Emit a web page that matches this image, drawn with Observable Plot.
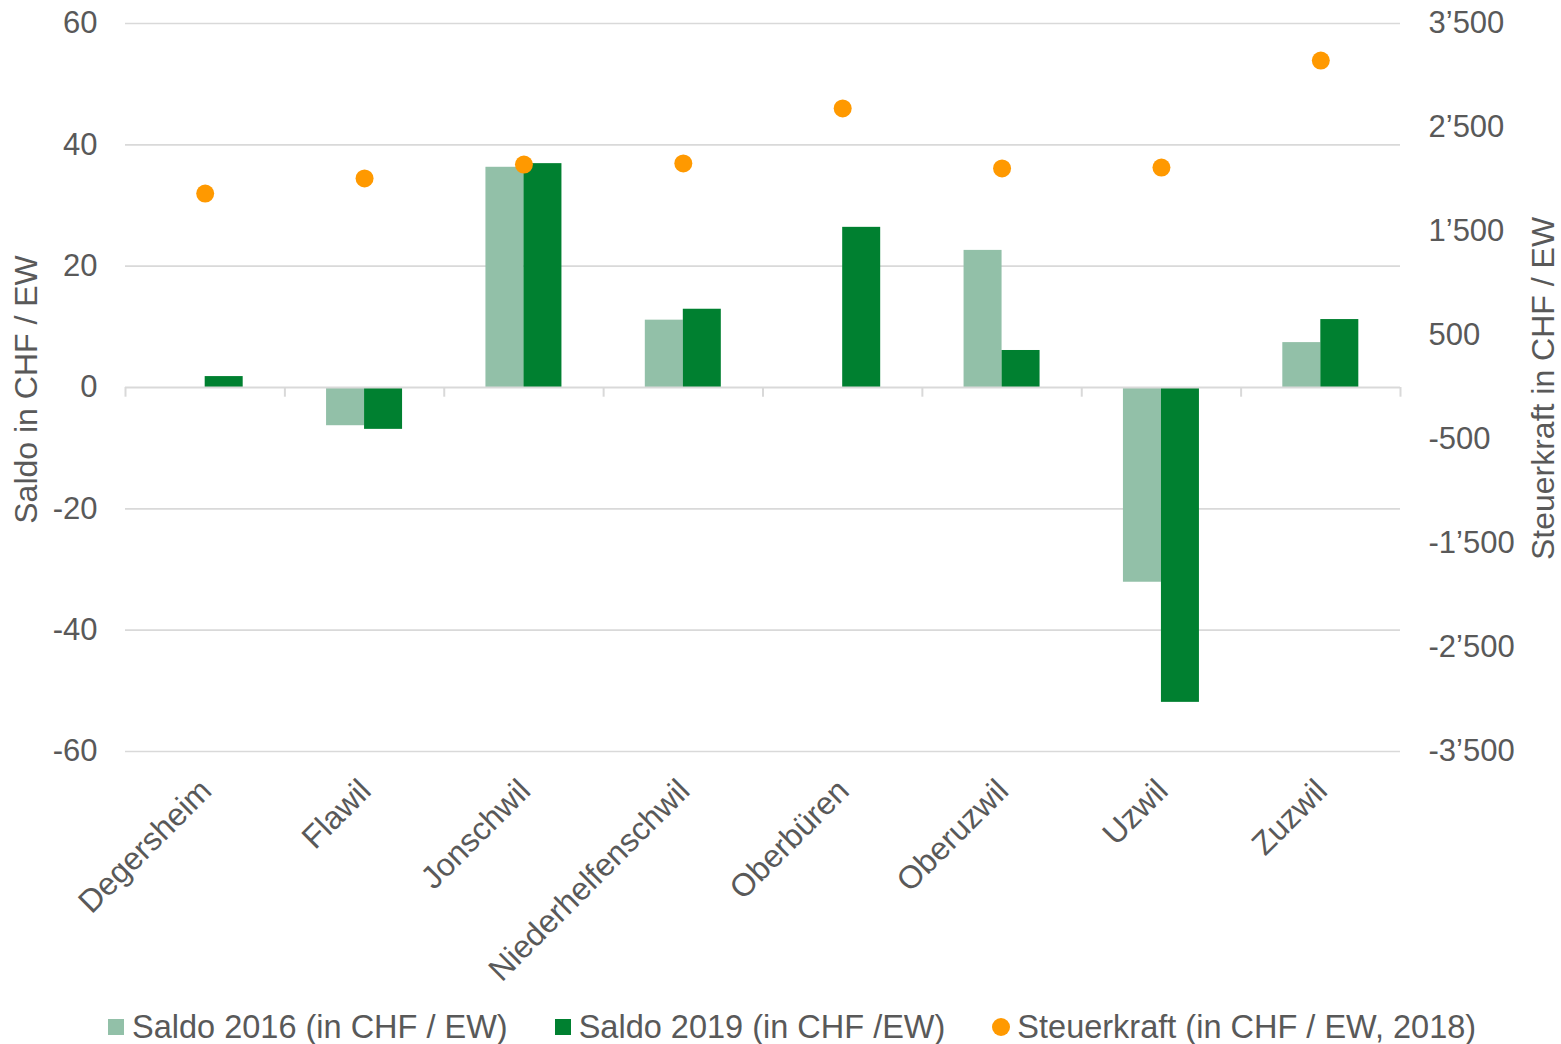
<!DOCTYPE html>
<html>
<head>
<meta charset="utf-8">
<script src="https://cdn.jsdelivr.net/npm/d3@7"></script>
<script src="https://cdn.jsdelivr.net/npm/@observablehq/plot@0.6"></script>
<style>
  html, body { margin: 0; padding: 0; background: #fff; }
  body { width: 1561px; height: 1044px; position: relative; overflow: hidden; font-family: "Liberation Sans", Arial, sans-serif; }
  #legend { position: absolute; left: 108px; top: 1005px; height: 44px; display: flex; align-items: center; font-size: 32.5px; color: #595959; white-space: nowrap; }
  .item { display: flex; align-items: center; margin-right: 47px; }
  .sw { width: 16px; height: 16px; margin-right: 8px; }
  .dot { width: 18px; height: 18px; border-radius: 50%; margin-right: 7px; }
</style>
</head>
<body>
<div id="chart"></div>
<div id="legend"></div>
<script>
const categories = ["Degersheim", "Flawil", "Jonschwil", "Niederhelfenschwil", "Oberbüren", "Oberuzwil", "Uzwil", "Zuzwil"];
const saldo2016 = [null, -6.3, 36.3, 11.1, null, 22.6, -32.1, 7.4];
const saldo2019 = [1.8, -6.9, 36.9, 12.9, 26.4, 6.1, -51.9, 11.2];
const steuerkraft = [1865, 2010, 2144, 2154, 2683, 2106, 2115, 3144];
const leftTicks = [-60, -40, -20, 0, 20, 40, 60];
const rightTicks = [-3500, -2500, -1500, -500, 500, 1500, 2500, 3500];
const seriesNames = ["Saldo 2016 (in CHF / EW)", "Saldo 2019 (in CHF /EW)", "Steuerkraft (in CHF / EW, 2018)"];
const colors = ["#92c0a8", "#008030", "#ff9900"];

const W = 1561, H = 1000;
const mL = 125, mR = 161, mT = 23, mB = H - 751;
const bw = (W - mL - mR) / categories.length;
const barW = 38;
const ratio = 60 / 3500; // right axis units -> left axis units

const rows = categories.map((c, i) => ({cat: c, s16: saldo2016[i], s19: saldo2019[i], st: steuerkraft[i]}));
const fmt = d3.formatLocale({decimal: ".", thousands: "\u2019", grouping: [3], currency: ["", ""], minus: "-"}).format(",");
const grey = "#d9d9d9";

const chart = Plot.plot({
  width: W, height: H,
  marginLeft: mL, marginRight: mR, marginTop: mT, marginBottom: mB,
  style: {fontFamily: "'Liberation Sans', Arial, sans-serif", fontSize: "31px", color: "#595959", background: "#fff"},
  x: {type: "band", domain: categories, padding: 0, round: false, axis: null},
  y: {domain: [-60, 60], axis: null},
  marks: [
    Plot.ruleY(leftTicks.filter(d => d !== 0), {stroke: grey, strokeWidth: 1.6}),
    Plot.barY(rows.filter(d => d.s16 != null), {x: "cat", y: "s16", fill: colors[0], insetLeft: bw / 2 - barW, insetRight: bw / 2}),
    Plot.barY(rows.filter(d => d.s19 != null), {x: "cat", y: "s19", fill: colors[1], insetLeft: bw / 2, insetRight: bw / 2 - barW}),
    Plot.ruleY([0], {stroke: grey, strokeWidth: 2}),
    Plot.ruleX(categories, {x: d => d, y1: 0, y2: -1.6, dx: -bw / 2, stroke: grey, strokeWidth: 2}),
    Plot.ruleX(categories.slice(-1), {x: d => d, y1: 0, y2: -1.6, dx: bw / 2, stroke: grey, strokeWidth: 2}),
    Plot.dot(rows, {x: "cat", y: d => d.st * ratio, r: 9, fill: colors[2], stroke: "none"}),
    Plot.axisY({ticks: leftTicks, anchor: "left", tickSize: 0, tickPadding: 28, label: null, tickFormat: d => fmt(d), fontSize: 31}),
    Plot.axisY({ticks: rightTicks.map(d => d * ratio), anchor: "right", tickSize: 0, tickPadding: 28, label: null, tickFormat: d => fmt(Math.round(d / ratio)), fontSize: 31}),
    Plot.text(categories, {x: d => d, frameAnchor: "bottom", text: d => d, rotate: -45, textAnchor: "end", lineAnchor: "middle", dx: 1, dy: 34, fontSize: 32, fill: "#595959"}),
    Plot.text(["Saldo in CHF / EW"], {frameAnchor: "left", text: d => d, rotate: -90, textAnchor: "middle", lineAnchor: "middle", dx: -99, dy: 2, fontSize: 32, fill: "#595959"}),
    Plot.text(["Steuerkraft in CHF / EW"], {frameAnchor: "right", text: d => d, rotate: -90, textAnchor: "middle", lineAnchor: "middle", dx: 143, dy: 1, fontSize: 32, fill: "#595959"})
  ]
});
document.getElementById("chart").appendChild(chart);

const legend = document.getElementById("legend");
seriesNames.forEach((name, i) => {
  const item = document.createElement("div");
  item.className = "item";
  const sw = document.createElement("div");
  sw.className = i === 2 ? "dot" : "sw";
  sw.style.background = colors[i];
  const label = document.createElement("span");
  label.textContent = name;
  item.appendChild(sw);
  item.appendChild(label);
  legend.appendChild(item);
});
</script>
</body>
</html>
